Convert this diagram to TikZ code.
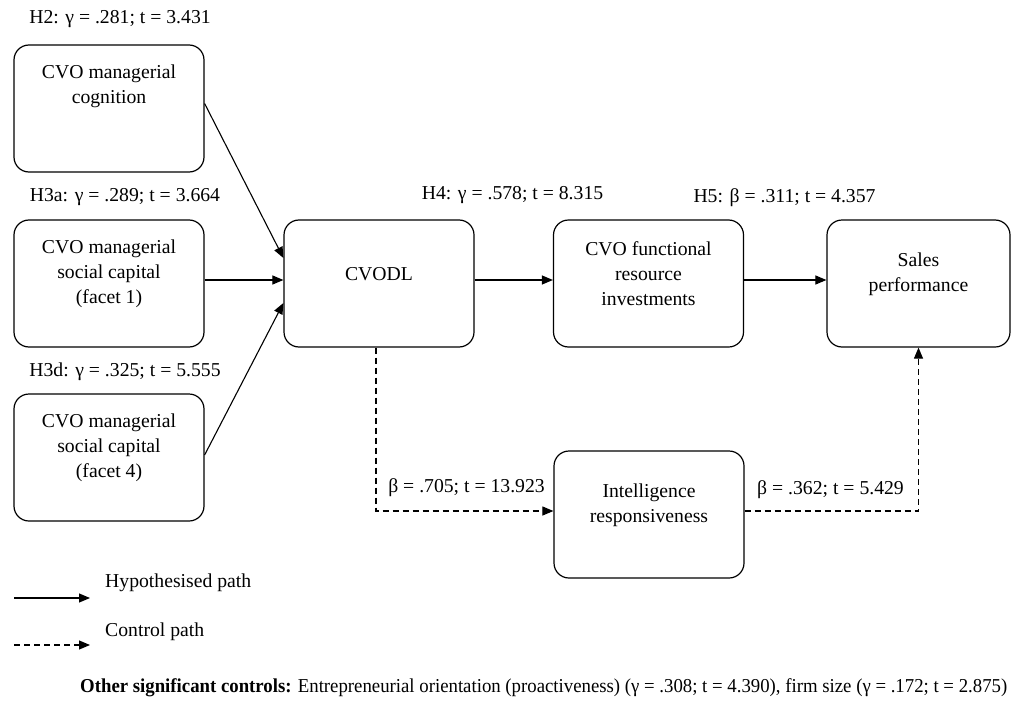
\documentclass[tikz,border=0pt]{standalone}
\usepackage{fontspec}
\usepackage{graphicx}
\setmainfont{Liberation Serif}
\usetikzlibrary{arrows.meta}
\begin{document}
\begin{tikzpicture}[x=1pt,y=-1pt,
  every node/.style={font=\fontsize{19.7}{25}\selectfont, inner sep=0pt, align=center},
  box/.style={draw, line width=1.2pt, rounded corners=15pt, minimum width=190pt, minimum height=127pt},
  link/.style={line width=1.1pt, -{Triangle[length=11pt,width=9pt]}},
  ctrl/.style={link, dash pattern=on 6pt off 4pt},
  lbl/.style={anchor=center}
]
\useasboundingbox (0,0) rectangle (1011,706);

% construct boxes
\node[box] (cog) at (109,108.5) {};
\node[box] (fa1) at (109,283.5) {};
\node[box] (fa4) at (109,457.5) {};
\node[box] (cvodl) at (379,283.5) {};
\node[box] (func) at (648.5,283.5) {};
\node[box, minimum width=183pt] (sales) at (918.5,283.5) {};
\node[box] (intel) at (649,514.5) {};

% box captions
\node (tcog) at (109,86) {CVO managerial\\cognition};
\node (tfa1) at (109,274) {CVO managerial\\social capital\\(facet 1)};
\node (tfa4) at (109,448) {CVO managerial\\social capital\\(facet 4)};
\node (tcvodl) at (379,274) {CVODL};
\node (tfunc) at (648.5,274) {CVO functional\\resource\\investments};
\node (tsales) at (918.5,274) {Sales\\performance};
\node (tintel) at (649,505) {Intelligence\\responsiveness};

% path coefficients
\node (h2) at (120,19) {H2: γ = .281; t = 3.431};
\node (h3a) at (125,197) {H3a: γ = .289; t = 3.664};
\node (h3d) at (125,372) {H3d: γ = .325; t = 5.555};
\node (h4) at (512.5,195) {H4: γ = .578; t = 8.315};
\node (h5) at (784.5,198) {H5: β = .311; t = 4.357};
\node (c1) at (466.5,488) {β = .705; t = 13.923};
\node (c2) at (830.5,490) {β = .362; t = 5.429};

% hypothesised paths
\draw[link] ([yshift=5pt]cog.east) -- ([yshift=25.5pt]cvodl.west);
\draw[link] ([yshift=3.5pt]fa1.east) -- ([yshift=3.5pt]cvodl.west);
\draw[link] ([yshift=2.5pt]fa4.east) -- ([yshift=-19.5pt]cvodl.west);
\draw[link] ([yshift=3.5pt]cvodl.east) -- ([yshift=3.5pt]func.west);
\draw[link] ([yshift=3.5pt]func.east) -- ([yshift=3.5pt]sales.west);

% control paths
\draw[ctrl] ([xshift=-3pt]cvodl.south) |- ([yshift=3.5pt]intel.west);
\draw[ctrl] ([yshift=3.5pt]intel.east) -| (sales.south);

% legend
\coordinate (l1a) at (14,598);
\coordinate (l1b) at (90,598);
\coordinate (l2a) at (14,645);
\coordinate (l2b) at (90,645);
\draw[link] (l1a) -- (l1b);
\draw[ctrl] (l2a) -- (l2b);
\node[anchor=west] (lt1) at (105,583) {Hypothesised path};
\node[anchor=west] (lt2) at (105,632) {Control path};

% note on controls, condensed to the line width
\node[anchor=west] (note) at (80,688) {\resizebox{927pt}{\height}{\textbf{Other significant controls:} Entrepreneurial orientation (proactiveness) (γ = .308; t = 4.390), firm size (γ = .172; t = 2.875)}};
\end{tikzpicture}
\end{document}
